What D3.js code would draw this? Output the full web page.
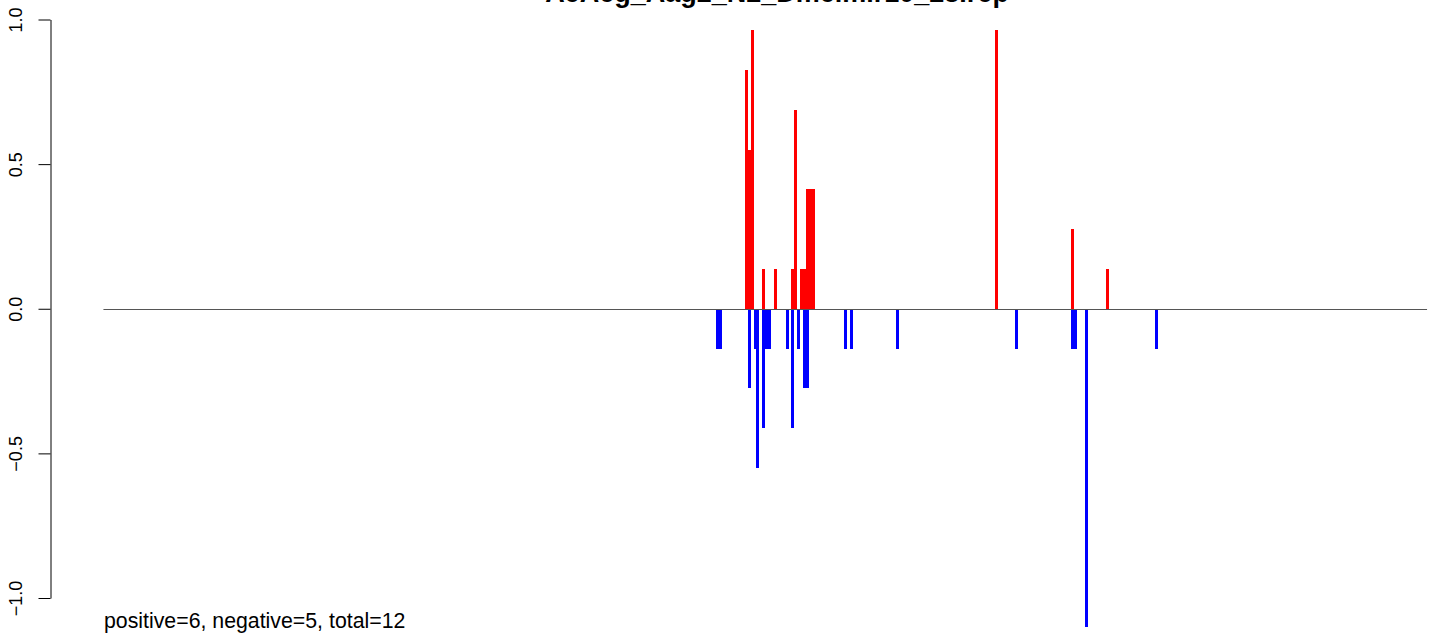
<!DOCTYPE html>
<html>
<head>
<meta charset="utf-8">
<script src="https://cdn.jsdelivr.net/npm/d3@7"></script>
<style>
  html, body { margin: 0; padding: 0; background: #fff; }
  svg { display: block; font-family: "Liberation Sans", Arial, Helvetica, sans-serif; }
</style>
</head>
<body>
<svg id="chart" width="1429" height="634"></svg>
<script>
// ---- data ----
const titleText = "AeAeg_Aag2_N2_Dmelmir10_28.rep";
const subtitleText = "positive=6, negative=5, total=12";
const seqLength = 456;

const positivePositions = [222, 223, 224, 228, 232, 238, 239, 241, 242, 243, 244, 245, 308, 334, 346];
const positiveValues    = [0.825, 0.55, 0.9625, 0.1375, 0.1375, 0.1375, 0.6875, 0.1375, 0.1375, 0.4125, 0.4125, 0.4125, 0.9625, 0.275, 0.1375];

const negativePositions = [212, 213, 223, 225, 226, 228, 229, 230, 236, 238, 240, 242, 243, 256, 258, 274, 315, 334, 335, 339, 363];
const negativeValues    = [-0.1375, -0.1375, -0.275, -0.1375, -0.55, -0.4125, -0.1375, -0.1375, -0.1375, -0.4125, -0.1375, -0.275, -0.275, -0.1375, -0.1375, -0.1375, -0.1375, -0.1375, -0.1375, -1.1, -0.1375];

const yTicks = [-1, -0.5, 0, 0.5, 1];

// ---- layout ----
const svg = d3.select("#chart");
const pad = (seqLength - 1) * 0.04;
const x = d3.scaleLinear().domain([1 - pad, seqLength + pad]).range([50.5, 1480]);
const y = d3.scaleLinear().domain([-1, 1]).range([598, 19.5]);
const barW = 3;

// zero line
svg.append("line")
  .attr("x1", x(1)).attr("x2", x(seqLength))
  .attr("y1", Math.round(y(0)) + 0.5).attr("y2", Math.round(y(0)) + 0.5)
  .attr("stroke", "#555").attr("stroke-width", 1);

const pos = positivePositions.map((p, i) => ({p, v: positiveValues[i]}));
const neg = negativePositions.map((p, i) => ({p, v: negativeValues[i]}));

svg.append("g").selectAll("rect").data(pos).join("rect")
  .attr("x", d => x(d.p) - barW / 2)
  .attr("width", barW)
  .attr("y", d => y(d.v))
  .attr("height", d => y(0) - y(d.v))
  .attr("fill", "#ff0000")
  .attr("shape-rendering", "crispEdges");

svg.append("g").selectAll("rect").data(neg).join("rect")
  .attr("x", d => x(d.p) - barW / 2)
  .attr("width", barW)
  .attr("y", y(0) + 1)
  .attr("height", d => y(d.v) - y(0) - 1)
  .attr("fill", "#0000ff")
  .attr("shape-rendering", "crispEdges");

// y axis
const axis = d3.axisLeft(y).tickValues(yTicks).tickFormat(d3.format(".1f")).tickSize(12).tickSizeOuter(0);
const gAxis = svg.append("g").attr("transform", "translate(50.5,0)").call(axis);
gAxis.select(".domain").attr("stroke", "#000");
gAxis.selectAll(".tick line").attr("stroke", "#000");
gAxis.selectAll(".tick text")
  .attr("font-size", 18)
  .attr("font-family", "Liberation Sans, Arial, sans-serif")
  .attr("fill", "#000")
  .attr("text-anchor", "middle")
  .attr("x", null).attr("dy", null)
  .attr("transform", "translate(-28.5,0) rotate(-90)");

// title (mostly above the visible area, as in the reference)
svg.append("text")
  .attr("x", 777).attr("y", 2)
  .attr("text-anchor", "middle")
  .attr("font-weight", "bold")
  .attr("font-size", 27)
  .text(titleText);

// subtitle
svg.append("text")
  .attr("x", 104).attr("y", 628)
  .attr("font-size", 21.3)
  .text(subtitleText);
</script>
</body>
</html>
